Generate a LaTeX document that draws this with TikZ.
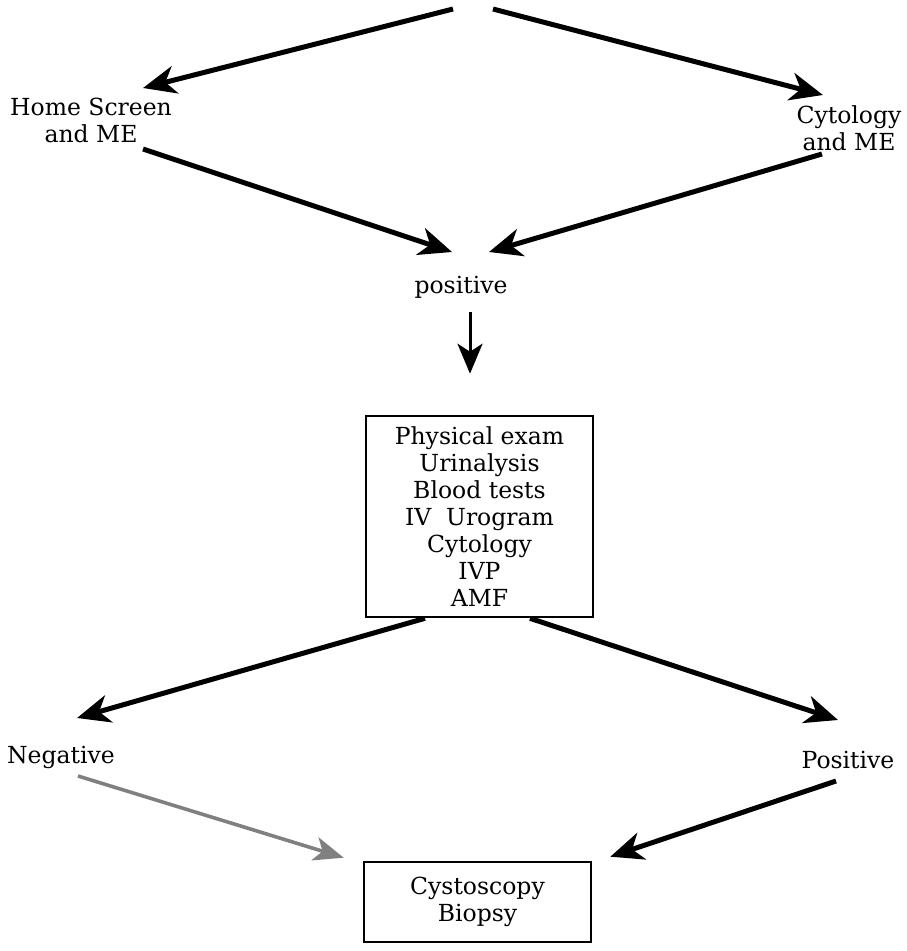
\documentclass[tikz,border=0pt]{standalone}
\usepackage{fontspec}
\setmainfont{DejaVu Serif}
\usetikzlibrary{arrows.meta}
\tikzset{
  lbl/.style={inner sep=0pt, align=center, font=\fontsize{23.5}{27}\selectfont},
  boxnode/.style={draw, line width=2.6pt, inner sep=0pt, align=center, font=\fontsize{23.5}{27}\selectfont},
  arr/.style={line width=5pt, -{Stealth[length=33pt, width=28pt, inset=10pt]}},
  thinarr/.style={line width=3pt, -{Stealth[length=30pt, width=25pt, inset=8pt]}},
  grayarr/.style={line width=3.6pt, draw=black!50, -{Stealth[length=30pt, width=24pt, inset=8pt, fill=black!50]}}
}
\begin{document}
\begin{tikzpicture}[x=1pt, y=-1pt]
\useasboundingbox (0,0) rectangle (906,951);
\coordinate (t1) at (453,9);
\coordinate (t2) at (493,9);
\node[lbl] (home) at (91,120) {Home Screen\\and ME};
\node[lbl] (cyto) at (849,128) {Cytology\\and ME};
\node[lbl] (pos) at (461,287) {positive};
\node[boxnode, minimum width=227pt, minimum height=201pt] (exam) at (479.5,516.5)
  {Physical exam\\Urinalysis\\Blood tests\\IV\ \ Urogram\\Cytology\\IVP\\AMF};
\node[lbl] (neg) at (61,757) {Negative};
\node[lbl] (posb) at (848,760) {Positive};
\node[boxnode, minimum width=227pt, minimum height=80pt] (cb) at (477.5,902)
  {Cystoscopy\\Biopsy};

\draw[arr] (t1) -- ([shift={(52,-32)}]home.center);
\draw[arr] (t2) -- ([shift={(-26,-33)}]cyto.center);
\draw[arr] ([shift={(52,29)}]home.center) -- ([shift={(-9,-35)}]pos.center);
\draw[arr] ([shift={(-27,26)}]cyto.center) -- ([shift={(28,-35)}]pos.center);
\draw[thinarr] ([shift={(9,25)}]pos.center) -- ([shift={(-9.5,-41)}]exam.north);
\draw[arr] ([shift={(-54.5,0)}]exam.south) -- ([shift={(16,-39)}]neg.center);
\draw[arr] ([shift={(50.5,0)}]exam.south) -- ([shift={(-10,-40)}]posb.center);
\draw[grayarr] ([shift={(17,19)}]neg.center) -- ([shift={(-19,-3)}]cb.north west);
\draw[arr] ([shift={(-12,21)}]posb.center) -- ([shift={(18,-4)}]cb.north east);
\end{tikzpicture}
\end{document}
